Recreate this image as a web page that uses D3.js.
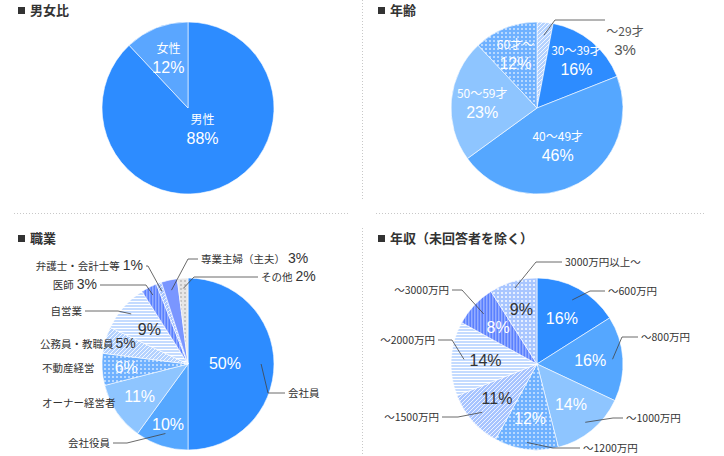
<!DOCTYPE html>
<html><head><meta charset="utf-8">
<script src="https://cdn.jsdelivr.net/npm/d3@7"></script>
<style>body{margin:0;background:#fff}text{font-family:"Noto Sans CJK JP","Noto Sans",sans-serif}.num{font-family:"Liberation Sans",Arial,sans-serif}</style>
</head><body>
<script>
// data
var genderLabels = ['男性', '女性']
var genderValues = [88, 12]
var ageLabels = ['～29才', '30～39才', '40～49才', '50～59才', '60才～']
var ageValues = [3, 16, 46, 23, 12]
var jobLabels = ['会社員', '会社役員', 'オーナー経営者', '不動産経営', '公務員・教職員', '自営業', '医師', '弁護士・会計士等', '専業主婦（主夫）', 'その他']
var jobValues = [50, 10, 11, 6, 5, 9, 3, 1, 3, 2]
var incomeLabels = ['～600万円', '～800万円', '～1000万円', '～1200万円', '～1500万円', '～2000万円', '～3000万円', '3000万円以上～']
var incomeValues = [16, 16, 14, 12, 11, 14, 8, 9]

var w = 724, h = 456
var svg = d3.select('body').append('svg').attr('width', w).attr('height', h)
var defs = svg.append('defs')

function pat(id, bg, fg, kind) {
  var p = defs.append('pattern').attr('id', id).attr('patternUnits', 'userSpaceOnUse')
    .attr('width', 4).attr('height', 4)
  p.append('rect').attr('width', 4).attr('height', 4).attr('fill', bg)
  if (kind == 'diag') {
    p.append('path').attr('d', 'M0,4L4,0M-1,1L1,-1M3,5L5,3').attr('stroke', fg).attr('stroke-width', 1)
  } else if (kind == 'dots') {
    p.append('rect').attr('x', 0).attr('y', 0).attr('width', 2).attr('height', 2).attr('fill', fg)
  } else if (kind == 'hline') {
    p.attr('height', 3); p.select('rect').attr('height', 3)
    p.append('rect').attr('width', 4).attr('height', 1).attr('fill', fg)
  } else if (kind == 'vline') {
    p.attr('width', 3); p.select('rect').attr('width', 3)
    p.append('rect').attr('width', 1.5).attr('height', 4).attr('fill', fg)
  }
}
pat('pDiag', '#b4d2ff', '#f2f7ff', 'diag')
pat('pDiag2', '#a7c4ff', '#eef3ff', 'diag')
pat('pDots', '#6fb1ff', '#b8d9ff', 'dots')
pat('pDots2', '#a9c6ff', '#e6efff', 'dots')
pat('pHline', '#c4dbff', '#ffffff', 'hline')
pat('pVline', '#5a80ff', '#93acff', 'vline')
pat('pGray', '#e6e6e6', '#c4c4c4', 'dots')

// separators
var sep = svg.append('g').attr('stroke', '#c8c8c8').attr('stroke-dasharray', '1,2')
sep.append('line').attr('x1', 362.5).attr('x2', 362.5).attr('y1', 0).attr('y2', 200)
sep.append('line').attr('x1', 362.5).attr('x2', 362.5).attr('y1', 228).attr('y2', 456)
sep.append('line').attr('x1', 14).attr('x2', 348).attr('y1', 213.5).attr('y2', 213.5)
sep.append('line').attr('x1', 376).attr('x2', 706).attr('y1', 213.5).attr('y2', 213.5)

function title(x, y, t) {
  svg.append('rect').attr('x', x).attr('y', y - 8).attr('width', 7).attr('height', 7).attr('fill', '#333')
  svg.append('text').attr('x', x + 12).attr('y', y).attr('font-size', 13).attr('font-weight', 'bold')
    .attr('fill', '#333').text(t)
}
title(18, 15, '男女比'); title(378, 15, '年齢'); title(18, 243, '職業'); title(378, 243, '年収（未回答者を除く）')

var R = 86
function drawPie(cx, cy, values, fills) {
  var g = svg.append('g').attr('transform', 'translate(' + cx + ',' + cy + ')')
  var arcs = d3.pie().sort(null)(values)
  var arc = d3.arc().innerRadius(0).outerRadius(R)
  g.selectAll('path').data(arcs).enter().append('path')
    .attr('d', arc).attr('fill', function (d, i) { return fills[i] })
    .attr('stroke', '#fff').attr('stroke-width', 0.6)
  return { g: g, arcs: arcs }
}
function inner(p, i, k, lines, color, size, dx, dy) {
  var a = (p.arcs[i].startAngle + p.arcs[i].endAngle) / 2
  var x = Math.sin(a) * R * k + (dx || 0), y = -Math.cos(a) * R * k + (dy || 0)
  var t = p.g.append('text').attr('text-anchor', 'middle').attr('fill', color)
    .attr('font-size', size || 14)
  lines.forEach(function (l, j) {
    t.append('tspan').attr('x', x).attr('y', y + (j - (lines.length - 1) / 2) * 20 + 5)
      .attr('class', l.s ? null : 'num')
      .attr('font-size', l.s || 16).text(l.t)
  })
}
// leader: from slice at radius k*R to elbow (ex,ey) then horizontal to (tx,ey)
function outer(p, i, k, ex, ey, tx, label, anchor, pct) {
  var a = (p.arcs[i].startAngle + p.arcs[i].endAngle) / 2
  var x0 = Math.sin(a) * R * k, y0 = -Math.cos(a) * R * k
  p.g.append('path').attr('d', 'M' + x0 + ',' + y0 + 'L' + ex + ',' + ey + 'L' + tx + ',' + ey)
    .attr('fill', 'none').attr('stroke', '#444').attr('stroke-width', 0.8)
  var t = p.g.append('text').attr('x', tx + (anchor == 'start' ? 3 : -3)).attr('y', ey + 4)
    .attr('text-anchor', anchor).attr('fill', '#333').attr('font-size', 10.5).text(label)
  if (pct) t.append('tspan').attr('class', 'num').attr('font-size', 14).attr('dx', 3).text(pct)
}

// 男女比
var p1 = drawPie(188, 108, genderValues, ['#2d8cff', '#5aa6ff'])
inner(p1, 0, 0.3, [{ t: genderLabels[0], s: 12 }, { t: genderValues[0] + '%' }], '#fff', 14, 5, -3)
inner(p1, 1, 0.62, [{ t: genderLabels[1], s: 12 }, { t: genderValues[1] + '%' }], '#fff', 14)

// 年齢
var p2 = drawPie(537, 108, ageValues, ['url(#pDiag)', '#2d8cff', '#55a7ff', '#8ec5ff', 'url(#pDots)'])
outer(p2, 0, 0.85, 18, -88, 68, '', 'start')
p2.g.append('text').attr('x', 88).attr('y', -72).attr('text-anchor', 'middle').attr('fill', '#555')
  .attr('font-size', 12).text(ageLabels[0])
p2.g.append('text').attr('class', 'num').attr('x', 88).attr('y', -53).attr('text-anchor', 'middle').attr('fill', '#555')
  .attr('font-size', 15).text(ageValues[0] + '%')
;[1, 2, 3, 4].forEach(function (i) {
  var k = [0, 0.72, 0.5, 0.64, 0.68][i]
  inner(p2, i, k, [{ t: ageLabels[i], s: 12 }, { t: ageValues[i] + '%' }], '#fff', 14)
})

// 職業
var p3 = drawPie(188, 364, jobValues,
  ['#2d8cff', '#55a7ff', '#8ec5ff', 'url(#pDots)', 'url(#pDiag)', 'url(#pHline)', 'url(#pVline)', 'url(#pDiag2)', '#7a96ff', 'url(#pGray)'])
inner(p3, 0, 0.43, [{ t: '50%' }], '#fff', 14, 0, 0)
inner(p3, 1, 0.75, [{ t: '10%' }], '#fff', 14)
inner(p3, 2, 0.68, [{ t: '11%' }], '#fff', 14)
inner(p3, 3, 0.72, [{ t: '6%' }], '#fff', 14)
inner(p3, 5, 0.6, [{ t: '9%' }], '#333', 14)
outer(p3, 0, 0.85, 80, 29, 97, jobLabels[0], 'start')
outer(p3, 1, 0.85, -61, 79, -75, jobLabels[1], 'end')
p3.g.append('text').attr('x', -146).attr('y', 43).attr('fill', '#333').attr('font-size', 10.5).text(jobLabels[2])
p3.g.append('text').attr('x', -146).attr('y', 8).attr('fill', '#333').attr('font-size', 10.5).text(jobLabels[3])
p3.g.append('text').attr('x', -148).attr('y', -16).attr('fill', '#333').attr('font-size', 10.5).text(jobLabels[4])
  .append('tspan').attr('class', 'num').attr('font-size', 14).attr('dx', 2).text(jobValues[4] + '%')
outer(p3, 5, 0.88, -70, -53, -103, jobLabels[5], 'end')
outer(p3, 6, 0.9, -42, -79, -88, jobLabels[6], 'end', jobValues[6] + '%')
outer(p3, 7, 0.9, -40, -98, -42, jobLabels[7], 'end', jobValues[7] + '%')
outer(p3, 8, 0.88, 0, -105, 10, jobLabels[8], 'start', jobValues[8] + '%')
outer(p3, 9, 0.88, 6, -87, 70, jobLabels[9], 'start', jobValues[9] + '%')

// 年収
var p4 = drawPie(537, 364, incomeValues,
  ['#2d8cff', '#55a7ff', '#8ec5ff', 'url(#pDots)', 'url(#pDiag2)', 'url(#pHline)', 'url(#pVline)', 'url(#pDots2)'])
var inCol = ['#fff', '#fff', '#fff', '#fff', '#333', '#333', '#fff', '#333']
var inK = [0.6, 0.62, 0.62, 0.65, 0.62, 0.6, 0.62, 0.65]
incomeValues.forEach(function (v, i) { inner(p4, i, inK[i], [{ t: v + '%' }], inCol[i], 14) })
outer(p4, 0, 0.85, 53, -73, 68, incomeLabels[0], 'start')
outer(p4, 1, 0.88, 85, -27, 101, incomeLabels[1], 'start')
outer(p4, 2, 0.88, 76, 54, 86, incomeLabels[2], 'start')
outer(p4, 3, 0.92, 16, 84, 43, incomeLabels[3], 'start')
outer(p4, 4, 0.85, -79, 53, -95, incomeLabels[4], 'end')
outer(p4, 5, 0.85, -85, -24, -99, incomeLabels[5], 'end')
outer(p4, 6, 0.85, -75, -74, -85, incomeLabels[6], 'end')
outer(p4, 7, 0.92, -1, -102, 25, incomeLabels[7], 'start')
</script>
</body></html>
